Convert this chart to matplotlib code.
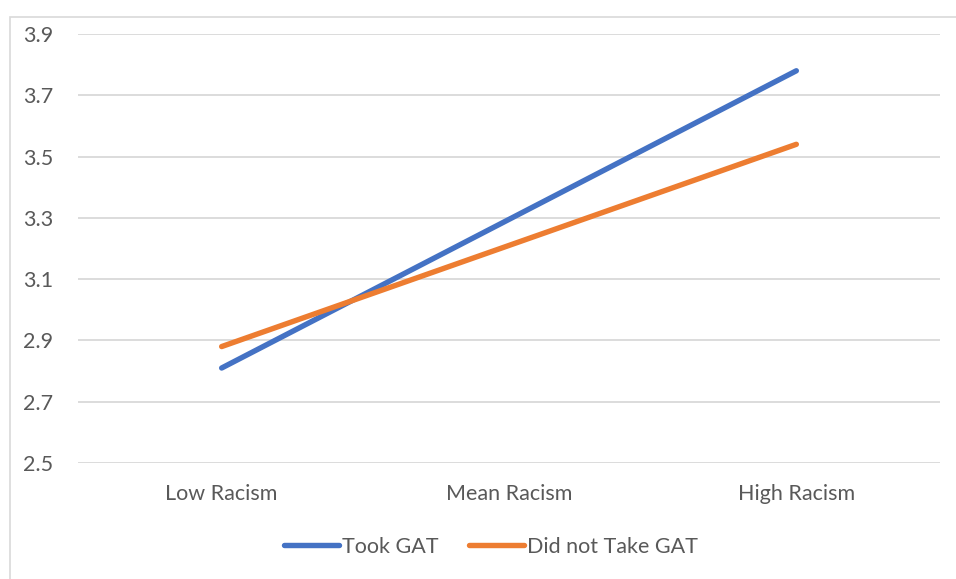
import matplotlib.pyplot as plt
from matplotlib.patches import Rectangle

# simple slopes: mean outcome by racism level, split by GAT participation
categories = ["Low Racism", "Mean Racism", "High Racism"]
took_gat = [2.81, 3.295, 3.78]
no_gat = [2.88, 3.21, 3.54]
yticks = [2.5, 2.7, 2.9, 3.1, 3.3, 3.5, 3.7, 3.9]

plt.rcParams['font.family'] = ['Lato', 'DejaVu Sans']
txt = '#595959'
fs = 15.5

fig = plt.figure(figsize=(9.56, 5.79), dpi=100)
ax = fig.add_axes([78/956, 1 - 463/579, (940 - 78)/956, (463 - 34)/579])

x = range(len(categories))
ax.plot(x, took_gat, color='#4472C4', lw=3.9, solid_capstyle='round', label='Took GAT', zorder=3)
ax.plot(x, no_gat, color='#ED7D31', lw=3.9, solid_capstyle='round', label='Did not Take GAT', zorder=3)

ax.set_xlim(-0.5, 2.5)
ax.set_ylim(2.5, 3.9)
ax.set_yticks(yticks)
ax.set_yticklabels([f"{v:.1f}" for v in yticks])
ax.set_xticks(list(x))
ax.set_xticklabels(categories)
ax.yaxis.grid(True, color='#D9D9D9', lw=1.3)
ax.set_axisbelow(True)
for s in ax.spines.values():
    s.set_visible(False)
ax.tick_params(length=0, labelsize=fs, labelcolor=txt)
ax.tick_params(axis='y', pad=18)
ax.tick_params(axis='x', pad=15)

# chart border
fig.patches.append(Rectangle((10/956, -0.01), 1, 1 - 17/579 + 0.01, transform=fig.transFigure,
                             fill=False, edgecolor='#D9D9D9', lw=1.2))

fig.legend(loc='center', bbox_to_anchor=(491/956, 1 - 547/579), ncol=2, frameon=False,
           fontsize=fs, labelcolor=txt, handlelength=2.55, handletextpad=0.15, columnspacing=1.4)

fig.savefig('out.png', dpi=100)
